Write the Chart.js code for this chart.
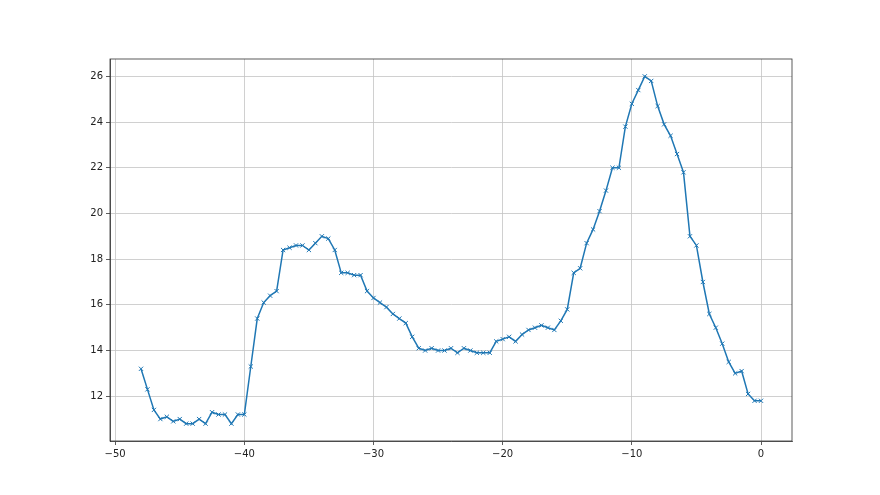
<!DOCTYPE html>
<html>
<head>
<meta charset="utf-8">
<script src="https://cdn.jsdelivr.net/npm/chart.js@4"></script>
<style>
html,body{margin:0;padding:0;background:#fff;}
#wrap{width:880px;height:495px;position:relative;}
</style>
</head>
<body>
<div id="wrap"><canvas id="c" width="880" height="495"></canvas></div>
<script>
const xValues = [
-48,-47.5,-47,-46.5,-46,-45.5,-45,-44.5,-44,-43.5,-43,-42.5,-42,-41.5,-41,-40.5,-40,-39.5,-39,-38.5,
-38,-37.5,-37,-36.5,-36,-35.5,-35,-34.5,-34,-33.5,-33,-32.5,-32,-31.5,-31,-30.5,-30,-29.5,-29,-28.5,
-28,-27.5,-27,-26.5,-26,-25.5,-25,-24.5,-24,-23.5,-23,-22.5,-22,-21.5,-21,-20.5,-20,-19.5,-19,-18.5,
-18,-17.5,-17,-16.5,-16,-15.5,-15,-14.5,-14,-13.5,-13,-12.5,-12,-11.5,-11,-10.5,-10,-9.5,-9,-8.5,
-8,-7.5,-7,-6.5,-6,-5.5,-5,-4.5,-4,-3.5,-3,-2.5,-2,-1.5,-1,-0.5,0
];
const yValues = [
13.2,12.3,11.4,11.0,11.1,10.9,11.0,10.8,10.8,11.0,10.8,11.3,11.2,11.2,10.8,11.2,11.2,13.3,15.4,16.1,
16.4,16.6,18.4,18.5,18.6,18.6,18.4,18.7,19.0,18.9,18.4,17.4,17.4,17.3,17.3,16.6,16.3,16.1,15.9,15.6,
15.4,15.2,14.6,14.1,14.0,14.1,14.0,14.0,14.1,13.9,14.1,14.0,13.9,13.9,13.9,14.4,14.5,14.6,14.4,14.7,
14.9,15.0,15.1,15.0,14.9,15.3,15.8,17.4,17.6,18.7,19.3,20.1,21.0,22.0,22.0,23.8,24.8,25.4,26.0,25.8,
24.7,23.9,23.4,22.6,21.8,19.0,18.6,17.0,15.6,15.0,14.3,13.5,13.0,13.1,12.1,11.8,11.8
];
const xTicks = [-50,-40,-30,-20,-10,0];
const yTicks = [12,14,16,18,20,22,24,26];

const points = xValues.map((x,i)=>({x:x,y:yValues[i]}));
const fmt = v => (v<0 ? '\u2212'+Math.abs(v) : String(v));

const boxPlugin = {
  id:'box',
  afterDraw(chart){
    const a = chart.chartArea, ctx = chart.ctx;
    ctx.save();
    ctx.strokeStyle = '#333';
    ctx.lineWidth = 0.8;
    ctx.strokeRect(a.left, a.top, a.right-a.left, a.bottom-a.top);
    ctx.restore();
  }
};

new Chart(document.getElementById('c'), {
  type:'line',
  data:{datasets:[{
    data:points,
    borderColor:'#1f77b4',
    backgroundColor:'#1f77b4',
    borderWidth:1.5,
    pointStyle:'crossRot',
    pointRadius:3,
    pointBorderWidth:1,
    pointBorderColor:'#1f77b4',
    tension:0,
    fill:false
  }]},
  options:{
    responsive:false,
    animation:false,
    events:[],
    layout:{padding:{left:0,right:88,top:59,bottom:0}},
    plugins:{legend:{display:false},tooltip:{enabled:false}},
    scales:{
      x:{
        type:'linear',
        min:-50.4, max:2.4,
        afterBuildTicks(s){ s.ticks = xTicks.map(v=>({value:v})); },
        afterFit(s){ s.height = 54; },
        grid:{color:'#c4c4c4',lineWidth:0.8,tickLength:4,tickColor:'#333',drawTicks:true},
        border:{display:true,color:'#333',width:0.8},
        ticks:{color:'#222',font:{family:'DejaVu Sans',size:10},padding:3,maxRotation:0,callback:v=>fmt(v)}
      },
      y:{
        type:'linear',
        min:10.04, max:26.76,
        afterBuildTicks(s){ s.ticks = yTicks.map(v=>({value:v})); },
        afterFit(s){ s.width = 110; },
        grid:{color:'#c4c4c4',lineWidth:0.8,tickLength:4,tickColor:'#333',drawTicks:true},
        border:{display:true,color:'#333',width:0.8},
        ticks:{color:'#222',font:{family:'DejaVu Sans',size:10},padding:3,callback:v=>fmt(v)}
      }
    }
  },
  plugins:[boxPlugin]
});
</script>
</body>
</html>
